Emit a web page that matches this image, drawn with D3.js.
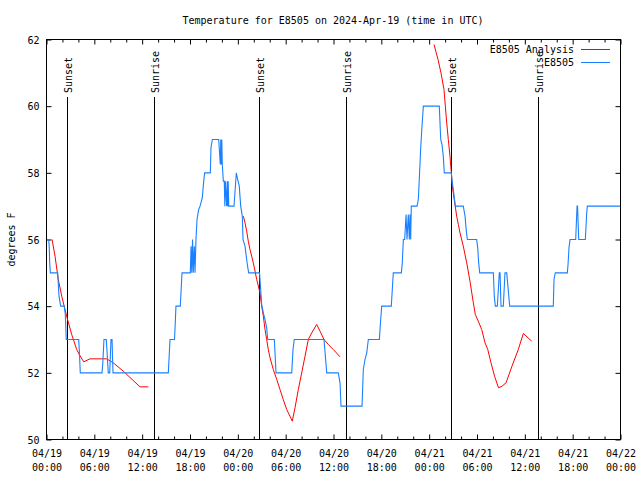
<!DOCTYPE html>
<html><head><meta charset="utf-8">
<script src="https://cdn.jsdelivr.net/npm/d3@7"></script>
<style>
body{margin:0;background:#fff}
svg text{font-family:"DejaVu Sans Mono","Liberation Mono",monospace;font-size:10px;fill:#000}
</style>
</head><body>
<svg id="chart" width="640" height="480"></svg>
<script>
// ---- data ----
const titleText = "Temperature for E8505 on 2024-Apr-19 (time in UTC)";
const yLabelText = "degrees F";
const startUTC = Date.UTC(2024, 3, 19, 0, 0);
const endUTC = Date.UTC(2024, 3, 22, 0, 0);
const yTickValues = [50, 52, 54, 56, 58, 60, 62];
const seriesNames = ["E8505 Analysis", "E8505"];

// observed station temperature (hours after 04/19 00:00 UTC, deg F)
const obsHours = [0.03,0.28,0.35,0.40,0.48,1.40,1.57,1.78,2.23,2.36,2.48,4.04,4.11,4.24,6.96,7.05,7.21,7.50,7.75,7.93,8.09,8.22,8.34,15.28,15.49,16.06,16.24,16.78,17.00,18.04,18.13,18.22,18.32,18.41,18.54,18.63,18.75,18.88,19.09,19.26,19.54,19.72,19.84,20.55,20.63,20.80,21.60,21.80,21.86,21.93,21.99,22.05,22.18,22.30,22.37,22.43,22.60,22.67,22.73,22.79,22.86,23.52,23.81,23.98,24.18,24.36,24.56,24.65,24.90,25.19,25.36,26.72,26.78,26.99,27.20,27.41,27.62,27.75,28.58,28.79,30.76,30.92,31.08,34.81,35.15,36.60,36.82,36.94,39.58,39.74,39.95,40.17,40.37,41.75,41.92,42.05,43.25,43.50,44.51,44.63,44.76,44.93,45.10,45.22,45.38,45.51,45.60,45.68,45.76,46.48,46.64,46.76,46.94,47.06,47.27,49.27,49.45,49.61,49.77,49.90,50.78,50.90,51.03,51.28,52.28,52.50,52.62,52.79,53.96,54.09,54.21,54.34,56.05,56.17,56.30,56.55,56.80,56.89,57.01,57.30,57.51,57.73,58.10,63.57,63.66,63.82,65.33,65.42,65.54,65.67,66.38,66.55,66.61,66.76,67.59,67.76,67.84,72.00];
const obsValues = [56,56,55.75,55.3,55,55,54.3,54,54,53.75,53,53,52.7,52,52,52.25,53,53,52,52,53,53,52,52,53,53,54,54,55,55,55.8,55,56,55,55.8,55,56,56.6,56.9,57,57.25,57.75,58,58,58.75,59,59,58.25,59,58.25,59,58.25,57.75,57.75,57,57.75,57,57.75,57,57.75,57,57,58,57.8,57.6,57,56.7,56,55.8,55.25,55,55,54.8,54.05,53.8,53.6,53.35,53,53,52,52,52.7,53,53,52,52,51.7,51,51,52.1,52.4,52.6,53,53,53.6,54,54,55,55,55.3,56,56,56.75,56,56.75,56,56.75,56,57,57,57.2,57.8,58.75,59.25,60,60,59,58.85,58.5,58,58,57.7,57.5,57,57,56.7,56.35,56,56,55.75,55.3,55,55,54.3,54,54,55,55,54,54,55,55,54,54,54.8,55,55,55.25,55.75,56,56,57,57,56,56,56.8,57,57];

// analysis runs (three separate pieces)
const ana1Hours = [0.7,1.07,1.48,1.91,2.53,3.16,3.79,4.11,4.67,5.46,7.55,8.38,9.63,11.73,12.77];
const ana1Values = [56.0,55.5,54.8,54.3,53.7,53.15,52.7,52.55,52.33,52.42,52.42,52.3,52.05,51.58,51.58];
const ana2Hours = [24.69,24.90,25.11,25.31,25.53,25.94,26.37,26.78,26.99,27.20,27.41,27.62,27.82,28.04,28.45,28.88,29.29,29.70,30.13,30.54,30.83,31.17,31.59,32.01,32.43,32.84,33.27,33.89,34.31,34.81,35.35,35.98,36.82];
const ana2Values = [56.7,56.5,56.25,55.95,55.7,55.3,54.8,54.4,54.0,53.7,53.3,53.0,52.7,52.45,52.1,51.8,51.5,51.2,50.9,50.7,50.55,50.95,51.5,52.0,52.5,53.0,53.2,53.45,53.25,53.0,52.85,52.7,52.48];
const ana3Hours = [48.61,49.11,49.48,49.86,50.03,50.20,50.40,50.61,50.78,50.90,51.24,51.45,51.66,51.87,52.28,52.71,53.12,53.54,53.79,54.16,54.59,55.01,55.35,55.76,56.20,56.70,57.14,57.64,58.39,59.18,59.81,60.86];
const ana3Values = [61.85,61.4,61.0,60.5,60.0,59.5,59.0,58.5,58.0,57.6,57.05,56.7,56.45,56.2,55.8,55.3,54.75,54.1,53.75,53.55,53.3,52.9,52.7,52.3,51.9,51.55,51.6,51.7,52.2,52.7,53.18,52.95];

const sunsetHours = [2.6, 26.66, 50.74];
const sunriseHours = [13.48, 37.57, 61.65];

// ---- drawing ----
const W = 640, H = 480;
const plotLeft = 46.5, plotRight = 620.5, plotTop = 39.5, plotBottom = 439.5;
const colors = {analysis: "#ff0000", obs: "#1a80ff"};
const toDate = h => new Date(startUTC + h * 3600e3);

const svg = d3.select("#chart");
svg.append("rect").attr("width", W).attr("height", H).attr("fill", "#fff");

const x = d3.scaleUtc().domain([new Date(startUTC), new Date(endUTC)]).range([plotLeft, plotRight]);
const y = d3.scaleLinear().domain([50, 62]).range([plotBottom, plotTop]);

const majorTicks = d3.utcHour.every(6).range(new Date(startUTC), new Date(endUTC + 1));
const minorTicks = d3.utcHour.every(2).range(new Date(startUTC), new Date(endUTC + 1))
  .filter(d => d.getUTCHours() % 6 !== 0);

function styleAxis(g) {
  g.select(".domain").remove();
  g.attr("font-family", null).attr("font-size", null);
  g.selectAll("line").attr("stroke", "#000");
}

// bottom major
svg.append("g").attr("transform", `translate(0,${plotBottom})`)
  .call(d3.axisBottom(x).tickValues(majorTicks).tickSizeInner(-5).tickSizeOuter(0).tickPadding(8)
    .tickFormat(d3.utcFormat("%m/%d")))
  .call(styleAxis)
  .call(g => g.selectAll(".tick text").each(function(d) {
    const t = d3.select(this);
    t.text(null).attr("dy", null).attr("y", 17.5);
    t.append("tspan").attr("x", 0).attr("y", 17.5).text(d3.utcFormat("%m/%d")(d));
    t.append("tspan").attr("x", 0).attr("y", 31.5).text(d3.utcFormat("%H:%M")(d));
  }));
// bottom minor
svg.append("g").attr("transform", `translate(0,${plotBottom})`)
  .call(d3.axisBottom(x).tickValues(minorTicks).tickSizeInner(-3).tickSizeOuter(0).tickFormat(""))
  .call(styleAxis);
// top major/minor
svg.append("g").attr("transform", `translate(0,${plotTop})`)
  .call(d3.axisTop(x).tickValues(majorTicks).tickSizeInner(-5).tickSizeOuter(0).tickFormat(""))
  .call(styleAxis);
svg.append("g").attr("transform", `translate(0,${plotTop})`)
  .call(d3.axisTop(x).tickValues(minorTicks).tickSizeInner(-3).tickSizeOuter(0).tickFormat(""))
  .call(styleAxis);
// left
svg.append("g").attr("transform", `translate(${plotLeft},0)`)
  .call(d3.axisLeft(y).tickValues(yTickValues).tickSizeInner(-5).tickSizeOuter(0).tickPadding(7).tickFormat(d3.format("d")))
  .call(styleAxis)
  .call(g => g.selectAll(".tick text").attr("dy", "0.35em"));
// right
svg.append("g").attr("transform", `translate(${plotRight},0)`)
  .call(d3.axisRight(y).tickValues(yTickValues).tickSizeInner(-5).tickSizeOuter(0).tickFormat(""))
  .call(styleAxis);

// sunrise / sunset markers
const sunEvents = sunsetHours.map(h => ({h, label: "Sunset"}))
  .concat(sunriseHours.map(h => ({h, label: "Sunrise"})));
const sunG = svg.append("g");
sunEvents.forEach(ev => {
  const px = Math.round(x(toDate(ev.h))) + 0.5;
  sunG.append("line").attr("x1", px).attr("x2", px).attr("y1", 97).attr("y2", plotBottom)
    .attr("stroke", "#000").attr("stroke-width", 1);
  sunG.append("text").attr("transform", `translate(${px + 4},93) rotate(-90)`)
    .attr("text-anchor", "start").text(ev.label);
});

// lines
const line = d3.line().x(d => x(toDate(d.h))).y(d => y(d.v));
const zip = (hs, vs) => hs.map((h, i) => ({h, v: vs[i]}));
[[ana1Hours, ana1Values], [ana2Hours, ana2Values], [ana3Hours, ana3Values]].forEach(([hs, vs]) => {
  svg.append("path").datum(zip(hs, vs)).attr("d", line)
    .attr("fill", "none").attr("stroke", colors.analysis).attr("stroke-width", 1);
});
svg.append("path").datum(zip(obsHours, obsValues)).attr("d", line)
  .attr("fill", "none").attr("stroke", colors.obs).attr("stroke-width", 1.1);

// frame
svg.append("rect").attr("x", plotLeft).attr("y", plotTop).attr("width", plotRight - plotLeft).attr("height", plotBottom - plotTop)
  .attr("fill", "none").attr("stroke", "#000").attr("stroke-width", 1);

// title & axis label
svg.append("text").attr("x", 333).attr("y", 23.5).attr("text-anchor", "middle").text(titleText);
svg.append("text").attr("transform", `translate(14.5,${(plotTop + plotBottom) / 2}) rotate(-90)`)
  .attr("text-anchor", "middle").text(yLabelText);

// legend
const legendColors = [colors.analysis, colors.obs];
const lg = svg.append("g");
seriesNames.forEach((name, i) => {
  const yy = 49.5 + i * 13;
  lg.append("text").attr("x", 574).attr("y", yy).attr("dy", "0.35em").attr("text-anchor", "end").text(name);
  lg.append("line").attr("x1", 581).attr("x2", 610).attr("y1", yy).attr("y2", yy)
    .attr("stroke", legendColors[i]).attr("stroke-width", 1);
});
</script>
</body></html>
